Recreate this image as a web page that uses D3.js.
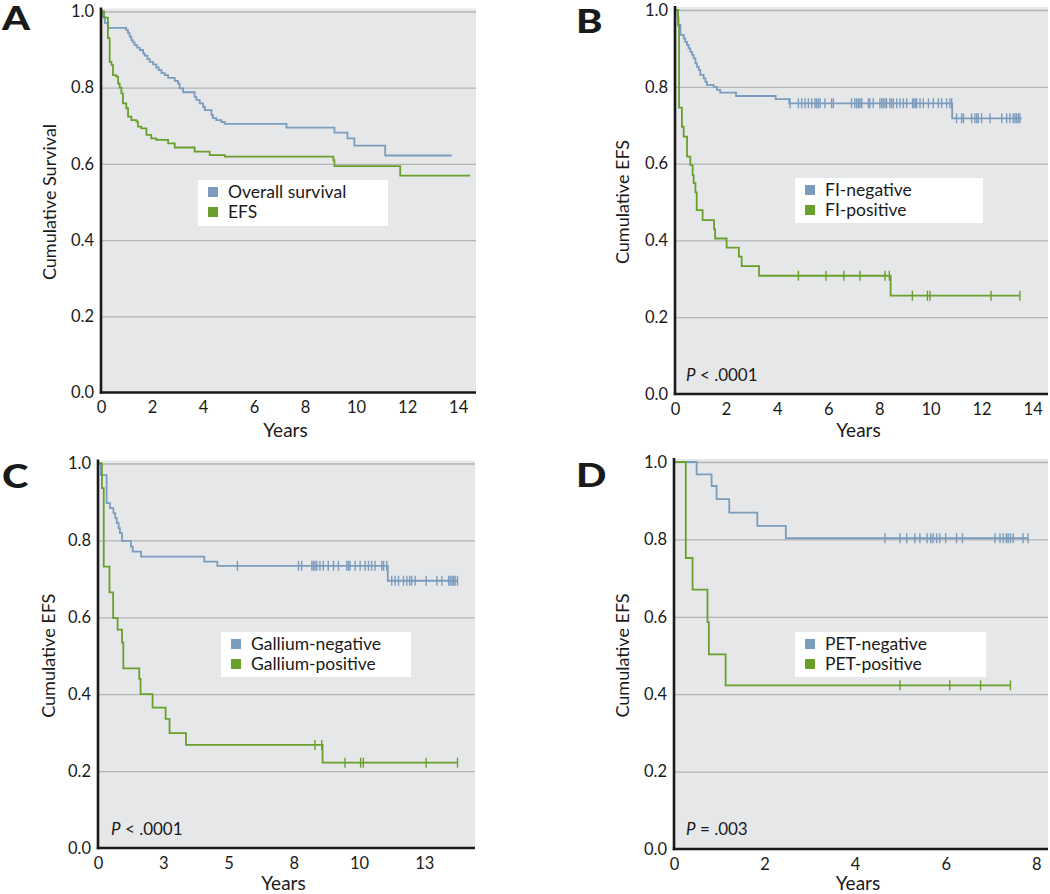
<!DOCTYPE html>
<html><head><meta charset="utf-8">
<script src="https://cdn.jsdelivr.net/npm/d3@7"></script>
<style>
body{margin:0;background:#fff;}
svg text{font-family:Lato,"Open Sans",sans-serif;fill:#1a1a1a;}
</style></head>
<body><svg id="c" width="1050" height="894"></svg>
<script>
// ---------- DATA ----------
const yTicks = [0, 0.2, 0.4, 0.6, 0.8, 1.0];
const xTicksAB = [0, 2, 4, 6, 8, 10, 12, 14];
const xTicksC = [0, 2.5, 5, 7.5, 10, 12.5];
const xTickLabelsC = ["0", "3", "5", "8", "10", "13"];
const xTicksD = [0, 2, 4, 6, 8];

// Panel A
const osA = [[0,1],[0.05,0.985],[0.15,0.97],[0.27,0.957],[0.99,0.951],[1.06,0.943],[1.12,0.934],[1.19,0.925],[1.25,0.919],[1.32,0.912],[1.42,0.905],[1.52,0.899],[1.65,0.89],[1.71,0.884],[1.82,0.875],[1.91,0.868],[2.04,0.861],[2.17,0.853],[2.26,0.846],[2.37,0.838],[2.5,0.833],[2.63,0.826],[2.89,0.818],[3.02,0.811],[3.08,0.798],[3.22,0.788],[3.67,0.776],[3.74,0.768],[3.87,0.759],[4.0,0.75],[4.07,0.741],[4.33,0.728],[4.39,0.72],[4.52,0.715],[4.72,0.71],[4.85,0.705],[7.27,0.695],[9.15,0.682],[9.66,0.667],[9.93,0.648],[11.14,0.622]];
const osAEnd = 13.75;
const efsA = [[0,1],[0.12,0.984],[0.27,0.93],[0.34,0.868],[0.41,0.86],[0.47,0.833],[0.6,0.829],[0.67,0.811],[0.73,0.8],[0.8,0.785],[0.86,0.759],[0.99,0.746],[1.06,0.724],[1.19,0.715],[1.39,0.711],[1.45,0.698],[1.58,0.693],[1.78,0.676],[1.97,0.667],[2.17,0.663],[2.63,0.654],[2.89,0.643],[3.67,0.632],[4.26,0.623],[4.85,0.619],[9.11,0.61],[9.15,0.594],[11.73,0.569]];
const efsAEnd = 14.47;

// Panel B
const fiNeg = [[0,1],[0.1,0.98],[0.14,0.961],[0.21,0.935],[0.34,0.926],[0.4,0.917],[0.47,0.909],[0.53,0.9],[0.6,0.891],[0.67,0.883],[0.73,0.874],[0.8,0.861],[0.86,0.852],[0.93,0.844],[0.99,0.831],[1.12,0.822],[1.19,0.813],[1.25,0.805],[1.51,0.8],[1.64,0.792],[1.77,0.785],[2.39,0.776],[3.94,0.768],[4.47,0.757],[10.85,0.718]];
const fiNegEnd = 13.57;
const fiNegCens = [4.5,4.83,4.96,5.09,5.22,5.35,5.48,5.54,5.61,5.68,5.87,6.13,6.2,6.91,7.04,7.11,7.18,7.24,7.31,7.57,7.63,7.76,8.02,8.09,8.15,8.22,8.28,8.41,8.48,8.55,8.68,8.81,8.94,9.07,9.3,9.35,9.41,9.46,9.59,9.72,9.92,10.11,10.31,10.44,10.63,10.76,10.83,11.02,11.22,11.29,11.61,11.74,11.81,11.87,12.0,12.33,12.79,12.98,13.11,13.24,13.31,13.37,13.44,13.5];
const fiPos = [[0,1],[0.12,0.96],[0.16,0.746],[0.27,0.696],[0.34,0.67],[0.47,0.618],[0.6,0.596],[0.69,0.57],[0.73,0.549],[0.8,0.525],[0.85,0.479],[1.08,0.453],[1.53,0.429],[1.57,0.405],[2.02,0.381],[2.5,0.358],[2.61,0.333],[3.29,0.308],[8.44,0.256]];
const fiPosEnd = 13.5;
const fiPosCens = [4.83,5.91,6.61,7.24,8.22,8.39,9.29,9.88,9.98,12.37,13.5];

// Panel C
const gaNeg = [[0,1],[0.11,0.97],[0.33,0.897],[0.46,0.884],[0.59,0.871],[0.66,0.858],[0.72,0.845],[0.79,0.832],[0.84,0.819],[0.92,0.799],[1.26,0.784],[1.33,0.771],[1.65,0.758],[4.07,0.745],[4.57,0.734],[11.1,0.695]];
const gaNegEnd = 13.77;
const gaNegCens = [5.34,7.68,7.8,8.19,8.25,8.31,8.38,8.5,8.63,8.82,9.02,9.21,9.53,9.59,9.65,9.85,10.04,10.23,10.36,10.48,10.61,10.87,10.94,11.06,11.25,11.38,11.51,11.7,11.83,11.94,12.02,12.15,12.57,12.98,13.17,13.43,13.49,13.56,13.62,13.68,13.77];
const gaPos = [[0,1],[0.15,0.936],[0.22,0.732],[0.44,0.665],[0.58,0.598],[0.75,0.568],[0.92,0.534],[0.97,0.467],[1.58,0.44],[1.63,0.4],[2.09,0.365],[2.59,0.336],[2.74,0.299],[3.37,0.268],[8.6,0.222]];
const gaPosEnd = 13.77;
const gaPosCens = [8.31,8.57,9.46,10.06,10.16,12.57,13.77];

// Panel D
const petNeg = [[0,1],[0.5,0.968],[0.83,0.938],[0.94,0.904],[1.22,0.869],[1.84,0.835],[2.47,0.803]];
const petNegEnd = 7.82;
const petNegCens = [4.66,4.99,5.14,5.32,5.43,5.59,5.67,5.72,5.8,5.87,6.0,6.24,6.37,7.09,7.2,7.27,7.34,7.38,7.43,7.49,7.71,7.82];
const petPos = [[0,1],[0.26,0.752],[0.41,0.67],[0.74,0.586],[0.77,0.503],[1.14,0.423]];
const petPosEnd = 7.43;
const petPosCens = [4.99,6.09,6.77,7.43];

// ---------- STYLE / LAYOUT ----------
const BLUE = "#7b9cbd", GREEN = "#69a02c", BG = "#e6e7e9";

const panels = [
  {letter:"A", lx:2, ly:30, left:101, right:476, y1:11.5, y0:392.5, xMax:14.7, xt:xTicksAB, xl:null,
   ytitle:"Cumulative Survival", ytx:50, xtitleY:437,
   leg:{x:198,y:180,w:190,h:46, names:["Overall survival","EFS"]},
   series:[{d:osA,end:osAEnd,c:BLUE,cens:[]},{d:efsA,end:efsAEnd,c:GREEN,cens:[]}], p:null},
  {letter:"B", lx:576, ly:33, left:675, right:1048, y1:10, y0:394, xMax:14.6, xt:xTicksAB, xl:null,
   ytitle:"Cumulative EFS", ytx:623, xtitleY:437,
   leg:{x:795,y:178,w:188,h:45, names:["FI-negative","FI-positive"]},
   series:[{d:fiNeg,end:fiNegEnd,c:BLUE,cens:fiNegCens},{d:fiPos,end:fiPosEnd,c:GREEN,cens:fiPosCens}],
   p:{x:686,y:381,pre:"P",txt:" < .0001"}},
  {letter:"C", lx:2, ly:488, left:98, right:475, y1:463.5, y0:848, xMax:14.44, xt:xTicksC, xl:xTickLabelsC,
   ytitle:"Cumulative EFS", ytx:49, xtitleY:890,
   leg:{x:221,y:632,w:190,h:45, names:["Gallium-negative","Gallium-positive"]},
   series:[{d:gaNeg,end:gaNegEnd,c:BLUE,cens:gaNegCens},{d:gaPos,end:gaPosEnd,c:GREEN,cens:gaPosCens}],
   p:{x:111,y:835,pre:"P",txt:" < .0001"}},
  {letter:"D", lx:576, ly:487, left:674, right:1048, y1:462, y0:849, xMax:8.26, xt:xTicksD, xl:null,
   ytitle:"Cumulative EFS", ytx:623, xtitleY:890,
   leg:{x:795,y:632,w:191,h:45, names:["PET-negative","PET-positive"]},
   series:[{d:petNeg,end:petNegEnd,c:BLUE,cens:petNegCens},{d:petPos,end:petPosEnd,c:GREEN,cens:petPosCens}],
   p:{x:686,y:835,pre:"P",txt:" = .003"}}
];

const svg = d3.select("#c");

function stepAt(d, t){ let v = d[0][1]; for (const p of d){ if (p[0] <= t) v = p[1]; } return v; }

panels.forEach(P => {
  const x = d3.scaleLinear().domain([0, P.xMax]).range([P.left, P.right]);
  const y = d3.scaleLinear().domain([0, 1]).range([P.y0, P.y1]);
  const top = P.y1 - 3;
  const g = svg.append("g");

  g.append("rect").attr("x", P.left).attr("y", top).attr("width", P.right - P.left).attr("height", P.y0 - top).attr("fill", BG);

  // gridlines
  g.append("g").attr("transform", `translate(${P.left},0)`)
    .call(d3.axisLeft(y).tickValues(yTicks.slice(1)).tickSize(-(P.right - P.left)).tickFormat(""))
    .call(s => s.select(".domain").remove())
    .call(s => s.selectAll("line").attr("stroke", "#b3b4b6").attr("stroke-width", 1.3));

  // y tick labels
  g.append("g").attr("transform", `translate(${P.left},0)`)
    .call(d3.axisLeft(y).tickValues(yTicks).tickSize(0).tickPadding(7).tickFormat(d3.format(".1f")))
    .call(s => s.select(".domain").remove())
    .call(s => s.selectAll("text").style("font-size", "16.5px").style("font-family", "Lato").attr("fill", "#1a1a1a"));

  // x tick labels
  g.append("g").attr("transform", `translate(0,${P.y0})`)
    .call(d3.axisBottom(x).tickValues(P.xt).tickSize(0).tickPadding(9)
      .tickFormat((d, i) => P.xl ? P.xl[i] : d3.format("d")(d)))
    .call(s => s.select(".domain").remove())
    .call(s => s.selectAll("text").style("font-size", "16.5px").style("font-family", "Lato").attr("fill", "#1a1a1a"));

  // curves
  P.series.forEach(S => {
    const pts = S.d.concat([[S.end, S.d[S.d.length - 1][1]]]);
    g.append("path").datum(pts)
      .attr("d", d3.line().x(p => x(p[0])).y(p => y(p[1])).curve(d3.curveStepAfter))
      .attr("fill", "none").attr("stroke", S.c).attr("stroke-width", 1.8);
    g.selectAll(null).data(S.cens).enter().append("line")
      .attr("x1", t => x(t)).attr("x2", t => x(t))
      .attr("y1", t => y(stepAt(S.d, t)) - 5).attr("y2", t => y(stepAt(S.d, t)) + 5)
      .attr("stroke", S.c).attr("stroke-width", 1.4);
  });

  // axis lines
  g.append("line").attr("x1", P.left).attr("x2", P.left).attr("y1", top - 1).attr("y2", P.y0 + 1.2)
    .attr("stroke", "#1a1a1a").attr("stroke-width", 2.6);
  g.append("line").attr("x1", P.left - 1.2).attr("x2", P.right).attr("y1", P.y0).attr("y2", P.y0)
    .attr("stroke", "#1a1a1a").attr("stroke-width", 2.6);

  // legend
  const L = P.leg;
  g.append("rect").attr("x", L.x).attr("y", L.y).attr("width", L.w).attr("height", L.h).attr("fill", "#fff");
  L.names.forEach((n, i) => {
    const cy = L.y + 12 + i * 20;
    g.append("rect").attr("x", L.x + 10).attr("y", cy - 5).attr("width", 10).attr("height", 10).attr("fill", P.series[i].c);
    g.append("text").attr("x", L.x + 30).attr("y", cy + 6).text(n).style("font-size", "17.5px");
  });

  // p value
  if (P.p) {
    const t = g.append("text").attr("x", P.p.x).attr("y", P.p.y).style("font-size", "17px");
    t.append("tspan").style("font-style", "italic").text(P.p.pre);
    t.append("tspan").text(P.p.txt);
  }

  // titles
  g.append("text").attr("transform", `translate(${P.ytx},${(P.y0 + P.y1) / 2}) rotate(-90)`)
    .attr("text-anchor", "middle").attr("dy", "0.35em").text(P.ytitle).style("font-size", "18px");
  g.append("text").attr("x", (P.left + P.right) / 2 - 3).attr("y", P.xtitleY).attr("text-anchor", "middle")
    .text("Years").style("font-size", "19px");

  // panel letter
  g.append("text").attr("transform", `translate(${P.lx},${P.ly}) scale(1.25,1)`).text(P.letter)
    .style("font-size", "32px").style("font-weight", "900");
});
</script></body></html>
